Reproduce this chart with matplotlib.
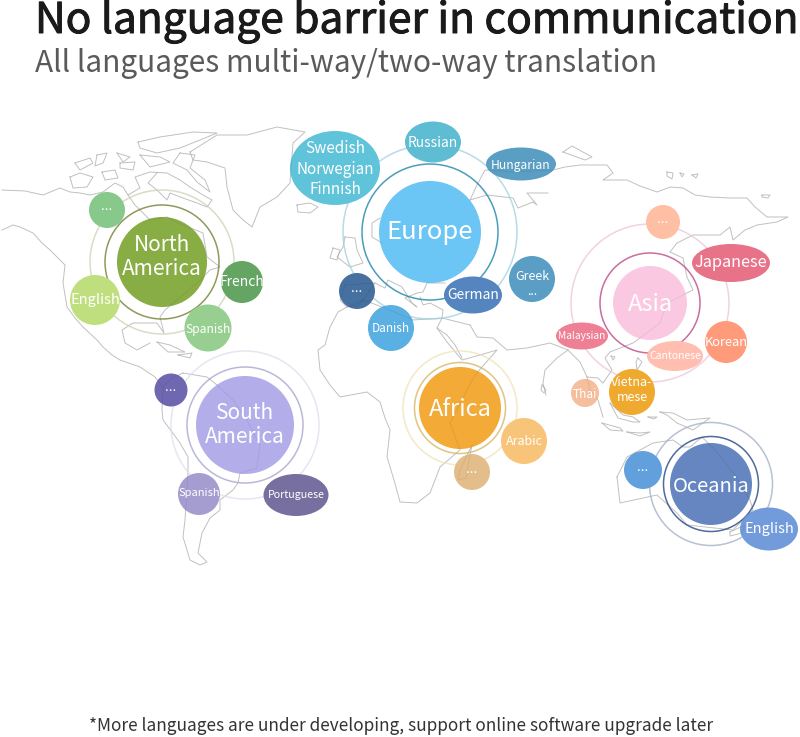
"""World map infographic: language bubbles per continent."""
import matplotlib
matplotlib.use('Agg')
import matplotlib.pyplot as plt
import matplotlib.patheffects as pe
from matplotlib.patches import Ellipse, Circle

plt.rcParams['font.family'] = ['Noto Sans CJK SC', 'DejaVu Sans']

TITLE = 'No language barrier in communication'
SUBTITLE = 'All languages multi-way/two-way translation'
FOOTNOTE = '*More languages are under developing, support online software upgrade later'

# continents
REGION_NAMES = ['North\nAmerica', 'Europe', 'Asia', 'South\nAmerica', 'Africa', 'Oceania']
REGION_X = [162, 430, 650, 245, 460, 711]
REGION_Y = [262, 232, 303, 425, 408, 484]
REGION_TEXT_Y = [257, 232, 304, 425, 409, 486]
REGION_R = [45, 51, 37, 49, 41, 41]
REGION_RING1 = [57, 68, 50, 58, 45.5, 47.5]
REGION_RING2 = [72, 87, 79, 74, 57, 61.5]
REGION_COLORS = ['#89AD45', '#6BC5F5', '#FBC8E1', '#B3AEEA', '#F3AA36', '#6686C2']
RING1_COLORS = ['#8F9A5A', '#4A9DBB', '#C96E9E', '#B9B8D8', '#E0C483', '#4F6A9C']
RING2_COLORS = ['#D8DDC4', '#B5DCE8', '#F0D3E2', '#E6E6F0', '#F3E8C8', '#B7C0D4']
REGION_SIZES = [15, 18.5, 17, 15, 17, 14.5]

# language bubbles
LANG_NAMES = ['English', 'French', 'Spanish', '...',
              'Swedish\nNorwegian\nFinnish', 'Russian', 'Hungarian', 'Greek\n...',
              'German', '...', 'Danish',
              '...', 'Japanese', 'Malaysian', 'Korean', 'Cantonese', 'Thai', 'Vietna-\nmese',
              'Arabic', '...',
              '...', 'English',
              '...', 'Spanish', 'Portuguese']
LANG_X = [95, 242, 208, 107,
          335, 433, 521, 532,
          473, 357, 391,
          663, 731, 582, 726, 675, 585, 632,
          524, 472,
          643, 769,
          171, 199, 296]
LANG_Y = [300, 282, 328, 210,
          168, 142, 164, 279,
          295, 291, 328,
          222, 263, 336, 342, 356, 393, 392,
          441, 472,
          470, 529,
          390, 494, 495]
LANG_TEXT_Y = [300, 282, 329, 206,
               169, 143, 165, 284,
               295, 288, 328,
               219, 262, 336, 342, 356, 394, 390,
               441, 469,
               467, 529,
               387, 493, 495]
LANG_W = [50, 42, 47, 36,
          90, 56, 70, 46,
          58, 36, 46,
          34, 78, 52, 42, 56, 28, 46,
          46, 36,
          38, 58,
          33, 42, 65]
LANG_H = [50, 42, 47, 36,
          74, 41, 33, 46,
          37, 36, 46,
          34, 38, 27, 42, 30, 28, 46,
          46, 36,
          38, 43,
          33, 42, 42]
LANG_COLORS = ['#BFDF7E', '#64A563', '#97CF91', '#86C98A',
               '#5FC3DA', '#5EBDD2', '#5B9EC4', '#5A9EC6',
               '#5585BF', '#46709F', '#5BB0E3',
               '#FFBFA4', '#E87388', '#EE7F94', '#FF9A7B', '#FFBEAF', '#F5BE9C', '#F0A92F',
               '#F8C47A', '#E3BE8B',
               '#62A0DD', '#729BDC',
               '#6F68B0', '#A59DD0', '#776F9F']
LANG_SIZES = [10.5, 10, 8.7, 9.5,
              11, 10, 8.7, 9,
              10, 9.5, 8.5,
              9.5, 11.7, 7.3, 9.3, 7.5, 8.5, 9,
              9, 9.5,
              9.5, 10.5,
              9.5, 8, 7.7]

# coastlines, traced by eye in picture coordinates
COASTS = [
    # Alaska and the arctic mainland coast
    [(2, 190), (25, 191), (43, 195), (60, 188), (70, 192), (80, 193), (90, 195), (103, 192), (115, 183),
     (123, 187), (128, 195), (140, 188), (135, 177), (150, 172), (167, 173), (180, 180), (190, 187),
     (203, 195), (212, 200), (207, 207), (197, 203), (183, 198), (170, 193), (167, 200), (157, 190),
     (148, 183), (157, 173)],
    # west coast to Central America
    [(2, 230), (13, 225), (20, 227), (33, 233), (42, 243), (50, 250), (58, 258), (65, 265), (63, 283),
     (67, 307), (75, 318), (83, 327), (97, 340), (103, 347), (112, 355), (120, 360), (140, 367),
     (155, 377), (163, 387), (172, 378), (183, 373)],
    # east coast of North America
    [(128, 195), (135, 205), (150, 220), (167, 217), (176, 222), (188, 227), (203, 233), (205, 245),
     (207, 257), (220, 267), (210, 270), (197, 283), (177, 300), (165, 310), (160, 317), (164, 333),
     (157, 323), (133, 323), (122, 330), (125, 343), (137, 350), (150, 343)],
    # South America
    [(163, 387), (162, 410), (163, 420), (172, 432), (180, 443), (188, 457), (188, 473), (185, 520),
     (183, 537), (190, 560), (200, 565), (207, 562), (198, 553), (202, 533), (210, 518), (220, 510),
     (220, 500), (233, 490), (238, 483), (240, 473), (257, 468), (260, 443), (257, 440), (247, 420),
     (233, 400), (217, 385), (207, 377), (183, 373)],
    # Greenland
    [(190, 152), (217, 135), (247, 135), (277, 127), (305, 132), (293, 143), (290, 183), (277, 197),
     (260, 207), (252, 227), (243, 220), (233, 210), (227, 187), (225, 168), (207, 162), (193, 160), (190, 152)],
    # Canadian islands
    [(138, 142), (160, 137), (193, 132), (217, 133), (200, 140), (180, 148), (157, 153), (140, 148), (138, 142)],
    [(180, 153), (173, 163), (187, 170), (197, 182), (210, 192), (205, 180), (190, 168), (195, 155), (180, 153)],
    [(70, 177), (80, 173), (93, 177), (87, 187), (73, 188), (70, 177)],
    [(75, 163), (90, 158), (93, 163), (80, 170), (75, 163)],
    [(97, 155), (107, 153), (103, 163), (95, 166), (97, 155)],
    [(117, 153), (130, 157), (123, 162), (117, 153)],
    [(120, 163), (135, 162), (133, 170), (120, 168), (120, 163)],
    [(140, 155), (160, 157), (170, 162), (150, 167), (140, 155)],
    [(102, 172), (115, 170), (118, 178), (105, 180), (102, 172)],
    # Caribbean
    [(157, 342), (170, 345), (185, 352), (168, 352), (157, 342)],
    [(178, 355), (192, 353), (190, 358), (178, 355)],
    # Iceland, Britain, Ireland
    [(297, 205), (310, 203), (318, 207), (310, 213), (298, 212), (297, 205)],
    [(345, 237), (355, 238), (357, 250), (363, 263), (350, 267), (337, 257), (343, 247), (345, 237)],
    [(333, 248), (340, 250), (337, 260), (330, 258), (333, 248)],
    # Africa
    [(363, 300), (347, 307), (338, 312), (330, 327), (325, 345), (318, 350), (320, 370), (330, 385),
     (340, 397), (367, 392), (380, 402), (385, 418), (390, 430), (387, 457), (394, 480), (400, 502),
     (417, 503), (430, 493), (440, 467), (460, 450), (450, 423), (475, 375), (497, 350), (480, 355),
     (462, 360), (447, 342), (437, 328), (442, 318), (413, 320), (385, 308), (363, 300)],
    # Madagascar
    [(470, 455), (472, 445), (460, 470), (458, 480), (466, 478), (470, 455)],
    # Scandinavia
    [(380, 218), (372, 223), (372, 237), (382, 243)],
    # Eurasia north coast
    [(470, 200), (477, 185), (485, 170), (515, 172), (553, 170), (565, 167), (580, 165), (607, 165),
     (613, 173), (603, 180), (627, 180), (640, 186), (657, 192), (670, 187), (683, 188), (695, 195),
     (710, 197), (730, 198), (747, 198), (755, 207), (767, 217), (788, 217), (777, 222), (757, 225),
     (745, 230), (733, 240), (730, 227), (720, 235), (693, 235), (677, 243), (670, 252), (683, 258),
     (687, 277), (693, 290), (667, 303), (660, 323), (640, 338), (633, 343), (610, 352), (605, 358),
     (612, 370), (603, 383), (598, 378), (587, 377), (580, 362), (568, 350), (557, 358), (545, 370),
     (543, 383), (546, 395)],
    [(470, 200), (487, 195), (513, 198), (518, 208), (533, 202), (537, 205), (527, 193), (548, 193)],
    # Malay peninsula
    [(587, 377), (590, 390), (598, 400), (603, 417)],
    # Arabia
    [(470, 325), (477, 337), (493, 338), (507, 350), (527, 348), (550, 343), (568, 350)],
    [(437, 328), (447, 335), (455, 345), (462, 358)],
    # Mediterranean Europe
    [(347, 307), (358, 305), (363, 300), (375, 283), (385, 288), (388, 280), (402, 287), (412, 303),
     (417, 307), (405, 298), (417, 293), (423, 292), (427, 283), (445, 283)],
    [(420, 297), (423, 305), (430, 303), (443, 310), (442, 318), (470, 325)],
    [(345, 285), (375, 283)],
    [(345, 285), (340, 300), (347, 307)],
    # Sri Lanka, Novaya Zemlya, northern islands
    [(542, 385), (546, 390), (544, 393), (541, 390), (542, 385)],
    [(563, 152), (572, 146), (592, 157), (585, 160), (563, 152)],
    [(667, 172), (673, 173), (672, 179), (667, 176), (667, 172)],
    [(680, 173), (684, 174), (682, 177), (680, 173)],
    [(692, 175), (698, 174), (696, 178), (692, 175)],
    [(762, 195), (770, 195), (768, 198), (762, 197), (762, 195)],
    # Indonesia, Philippines, Borneo, Papua
    [(602, 423), (620, 428), (623, 431), (610, 430), (602, 423)],
    [(627, 432), (640, 433), (650, 432), (640, 436), (627, 432)],
    [(610, 403), (623, 415), (633, 417), (640, 422), (633, 422), (618, 418), (610, 403)],
    [(660, 412), (673, 413), (687, 420), (710, 418), (700, 425), (693, 430), (677, 423), (667, 415), (660, 412)],
    [(648, 417), (657, 417), (654, 419), (648, 417)],
    [(638, 358), (642, 362), (637, 370), (636, 362), (638, 358)],
    [(611, 356), (615, 357), (613, 360), (611, 356)],
    # Australia
    [(617, 477), (627, 457), (653, 443), (673, 440), (683, 447), (690, 447), (702, 437), (715, 450),
     (735, 475), (750, 500), (753, 510), (733, 530), (687, 525), (677, 513), (657, 495), (620, 503), (617, 477)],
    # New Zealand
    [(730, 532), (745, 525), (742, 533), (730, 536), (730, 532)],
]
COAST_COLOR = '#D0D0D0'

fig = plt.figure(figsize=(8, 7.37), dpi=100)
ax = fig.add_axes([0, 0, 1, 1])
ax.set_xlim(0, 800)
ax.set_ylim(737, 0)
ax.axis('off')

for line in COASTS:
    xs = [p[0] for p in line]
    ys = [p[1] for p in line]
    ax.plot(xs, ys, color=COAST_COLOR, lw=0.7, zorder=1)
    # faint second pass so the map shows through the bubbles
    ax.plot(xs, ys, color='black', lw=0.6, alpha=0.08, zorder=5)

for x, y, ty, r, r1, r2, col, c1, c2, name, size in zip(REGION_X, REGION_Y, REGION_TEXT_Y, REGION_R, REGION_RING1,
                                                        REGION_RING2, REGION_COLORS, RING1_COLORS, RING2_COLORS,
                                                        REGION_NAMES, REGION_SIZES):
    ax.add_patch(Circle((x, y), r2, fill=False, ec=c2, lw=1.1, zorder=2))
    ax.add_patch(Circle((x, y), r1, fill=False, ec=c1, lw=1.1, zorder=2))
    ax.add_patch(Circle((x, y), r, fc=col, ec='none', zorder=3))
    ax.text(x, ty, name, color='white', fontsize=size, ha='center', va='center', linespacing=1.1, zorder=6)

for name, x, y, ty, w, h, col, size in zip(LANG_NAMES, LANG_X, LANG_Y, LANG_TEXT_Y, LANG_W, LANG_H,
                                           LANG_COLORS, LANG_SIZES):
    ax.add_patch(Ellipse((x, y), w, h, fc=col, ec='none', zorder=4))
    ax.text(x, ty, name, color='white', fontsize=size, ha='center', va='center', linespacing=1.25, zorder=6)

title = ax.text(35, 33, TITLE, fontsize=30.55, color='#1a1a1a', ha='left', va='baseline')
title.set_path_effects([pe.withStroke(linewidth=0.7, foreground='#1a1a1a')])
ax.text(35, 72, SUBTITLE, fontsize=21.5, color='#5a5a5a', ha='left', va='baseline')
ax.text(401, 726, FOOTNOTE, fontsize=12.4, color='#333333', ha='center', va='center')

fig.savefig('out.png', dpi=100)
